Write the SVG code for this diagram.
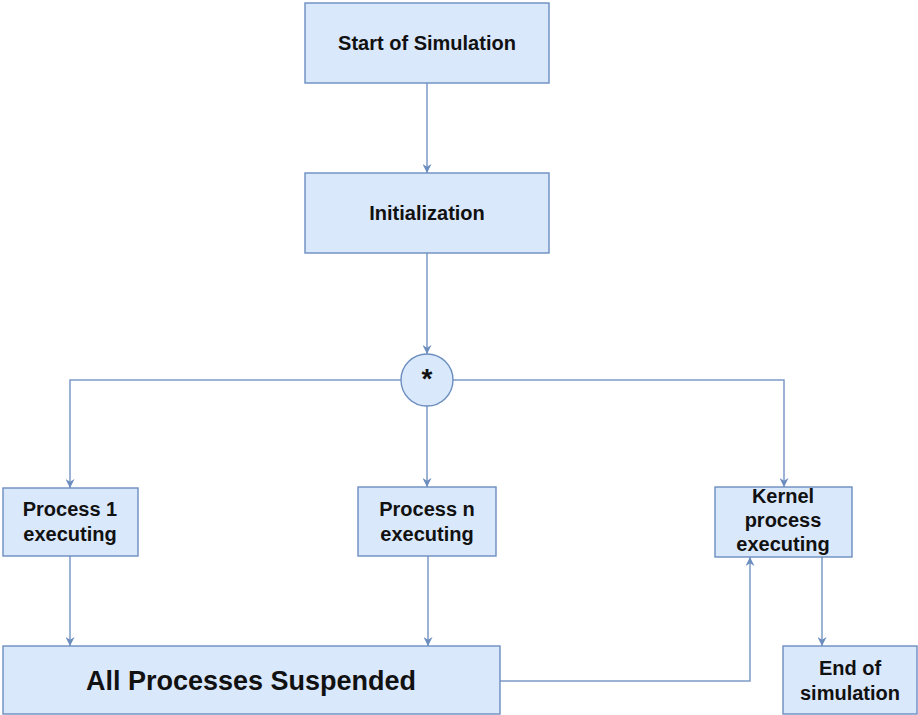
<svg xmlns="http://www.w3.org/2000/svg" width="918" height="715" viewBox="0 0 918 715">
  <style>
    .box { fill: #dae8fc; stroke: #6c8ebf; stroke-width: 1.4; }
    .lbl { font-family: "Liberation Sans", Arial, sans-serif; font-weight: bold; fill: #111; text-anchor: middle; }
    .edge { fill: none; stroke: #7d9ac8; stroke-width: 1.5; }
  </style>
  <defs>
    <marker id="arrow" viewBox="0 0 10 10" refX="10" refY="5" markerWidth="9" markerHeight="9" markerUnits="userSpaceOnUse" orient="auto">
      <path d="M0,0 L10,5 L0,10 L3,5 Z" fill="#6c8ebf"/>
    </marker>
  </defs>
  <rect width="918" height="715" fill="#ffffff"/>

  <g id="connectors">
    <path class="edge" d="M427,83 V173" marker-end="url(#arrow)"/>
    <path class="edge" d="M427,253 V354" marker-end="url(#arrow)"/>
    <path class="edge" d="M401,380 H70 V488" marker-end="url(#arrow)"/>
    <path class="edge" d="M427,406 V487" marker-end="url(#arrow)"/>
    <path class="edge" d="M453,380 H784 V487" marker-end="url(#arrow)"/>
    <path class="edge" d="M70,556 V646" marker-end="url(#arrow)"/>
    <path class="edge" d="M428,556 V646" marker-end="url(#arrow)"/>
    <path class="edge" d="M500,681 H750 V557" marker-end="url(#arrow)"/>
    <path class="edge" d="M822,557 V646" marker-end="url(#arrow)"/>
  </g>

  <g id="start">
    <rect class="box" x="305" y="3" width="244" height="80"/>
    <text class="lbl" x="427" y="50" font-size="20">Start of Simulation</text>
  </g>

  <g id="init">
    <rect class="box" x="305" y="173" width="244" height="80"/>
    <text class="lbl" x="427" y="220" font-size="20">Initialization</text>
  </g>

  <g id="fork">
    <circle class="box" cx="427" cy="380" r="26"/>
    <text class="lbl" x="427" y="388" font-size="28">*</text>
  </g>

  <g id="process1">
    <rect class="box" x="3" y="488" width="135" height="68"/>
    <text class="lbl" x="70" y="516" font-size="20">Process 1</text>
    <text class="lbl" x="70" y="541" font-size="20">executing</text>
  </g>

  <g id="processN">
    <rect class="box" x="358" y="487" width="138" height="69"/>
    <text class="lbl" x="427" y="516" font-size="20">Process n</text>
    <text class="lbl" x="427" y="541" font-size="20">executing</text>
  </g>

  <g id="kernel">
    <rect class="box" x="715" y="487" width="137" height="70"/>
    <text class="lbl" x="783" y="503" font-size="20">Kernel</text>
    <text class="lbl" x="783" y="527" font-size="20">process</text>
    <text class="lbl" x="783" y="551" font-size="20">executing</text>
  </g>

  <g id="suspended">
    <rect class="box" x="3" y="646" width="497" height="68"/>
    <text class="lbl" x="251" y="690" font-size="27">All Processes Suspended</text>
  </g>

  <g id="end">
    <rect class="box" x="783" y="646" width="134" height="68"/>
    <text class="lbl" x="850" y="675" font-size="20">End of</text>
    <text class="lbl" x="850" y="700" font-size="20">simulation</text>
  </g>
</svg>
